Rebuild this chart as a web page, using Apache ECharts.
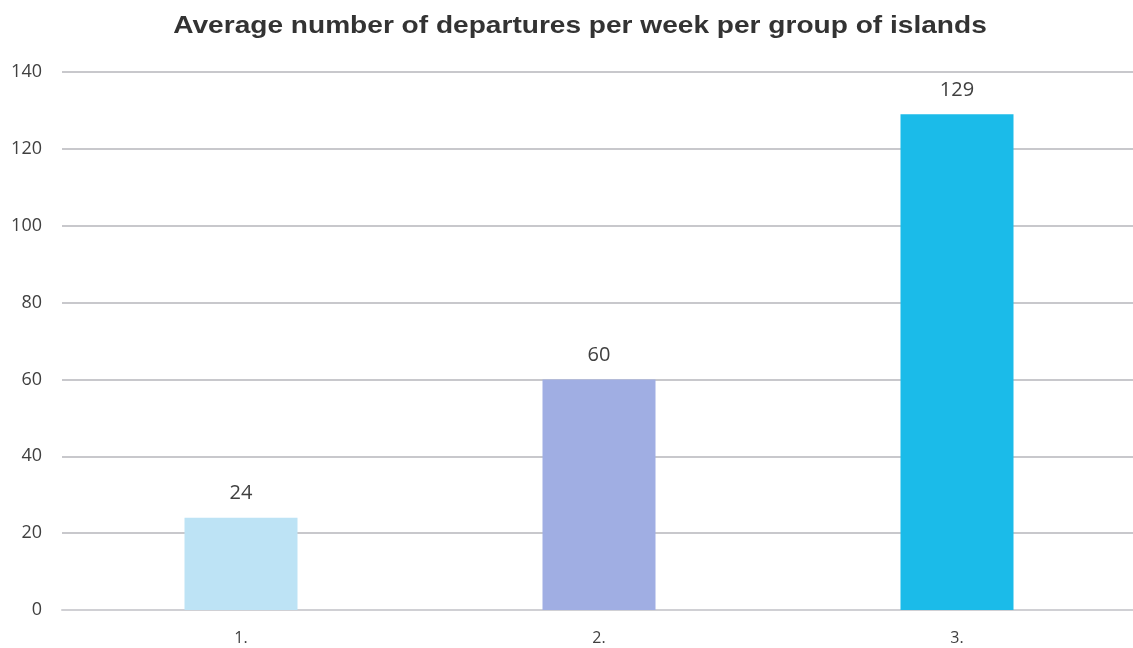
<!DOCTYPE html>
<html><head><meta charset="utf-8">
<script src="https://cdn.jsdelivr.net/npm/echarts@6/dist/echarts.min.js"></script>
<style>html,body{margin:0;padding:0;background:#fff;overflow:hidden}#c{width:1136px;height:648px}</style>
</head><body><div id="c"></div>
<script>
const titleText = 'Average number of departures per week per group of islands';
const categories = ['1.', '2.', '3.'];
const values = [24, 60, 129];
const barColors = ['#BDE3F5', '#A0AEE3', '#1BBBE9'];
const yTicks = {min: 0, max: 140, interval: 20};

const chart = echarts.init(document.getElementById('c'));
chart.setOption({
  animation: false,
  graphic: [{
    type: 'text', x: 580, y: 26, scaleX: 1.17, scaleY: 1,
    style: {
      text: titleText, align: 'center', verticalAlign: 'middle',
      font: 'bold 24px "Liberation Sans", Arial', fill: '#333333'
    }
  }],
  grid: {left: 62, right: 0, top: 72, bottom: 38, containLabel: false},
  xAxis: {
    type: 'category', data: categories,
    axisLine: {show: true, lineStyle: {color: '#D0D0D4', width: 2}},
    axisTick: {show: false},
    axisLabel: {color: '#404040', fontSize: 16, fontFamily: 'Open Sans, Noto Sans', margin: 20}
  },
  yAxis: {
    type: 'value', min: yTicks.min, max: yTicks.max, interval: yTicks.interval,
    axisLine: {show: false}, axisTick: {show: false},
    splitLine: {lineStyle: {color: '#C8C8CC', width: 2}},
    axisLabel: {color: '#404040', fontSize: 18, fontFamily: 'Open Sans, Noto Sans', margin: 20}
  },
  series: [{
    type: 'bar', barWidth: 113,
    data: values.map((v, i) => ({value: v, itemStyle: {color: barColors[i]}})),
    label: {show: true, position: 'top', distance: 14, color: '#404040', fontSize: 20, fontFamily: 'Open Sans, Noto Sans'}
  }]
});
</script></body></html>
